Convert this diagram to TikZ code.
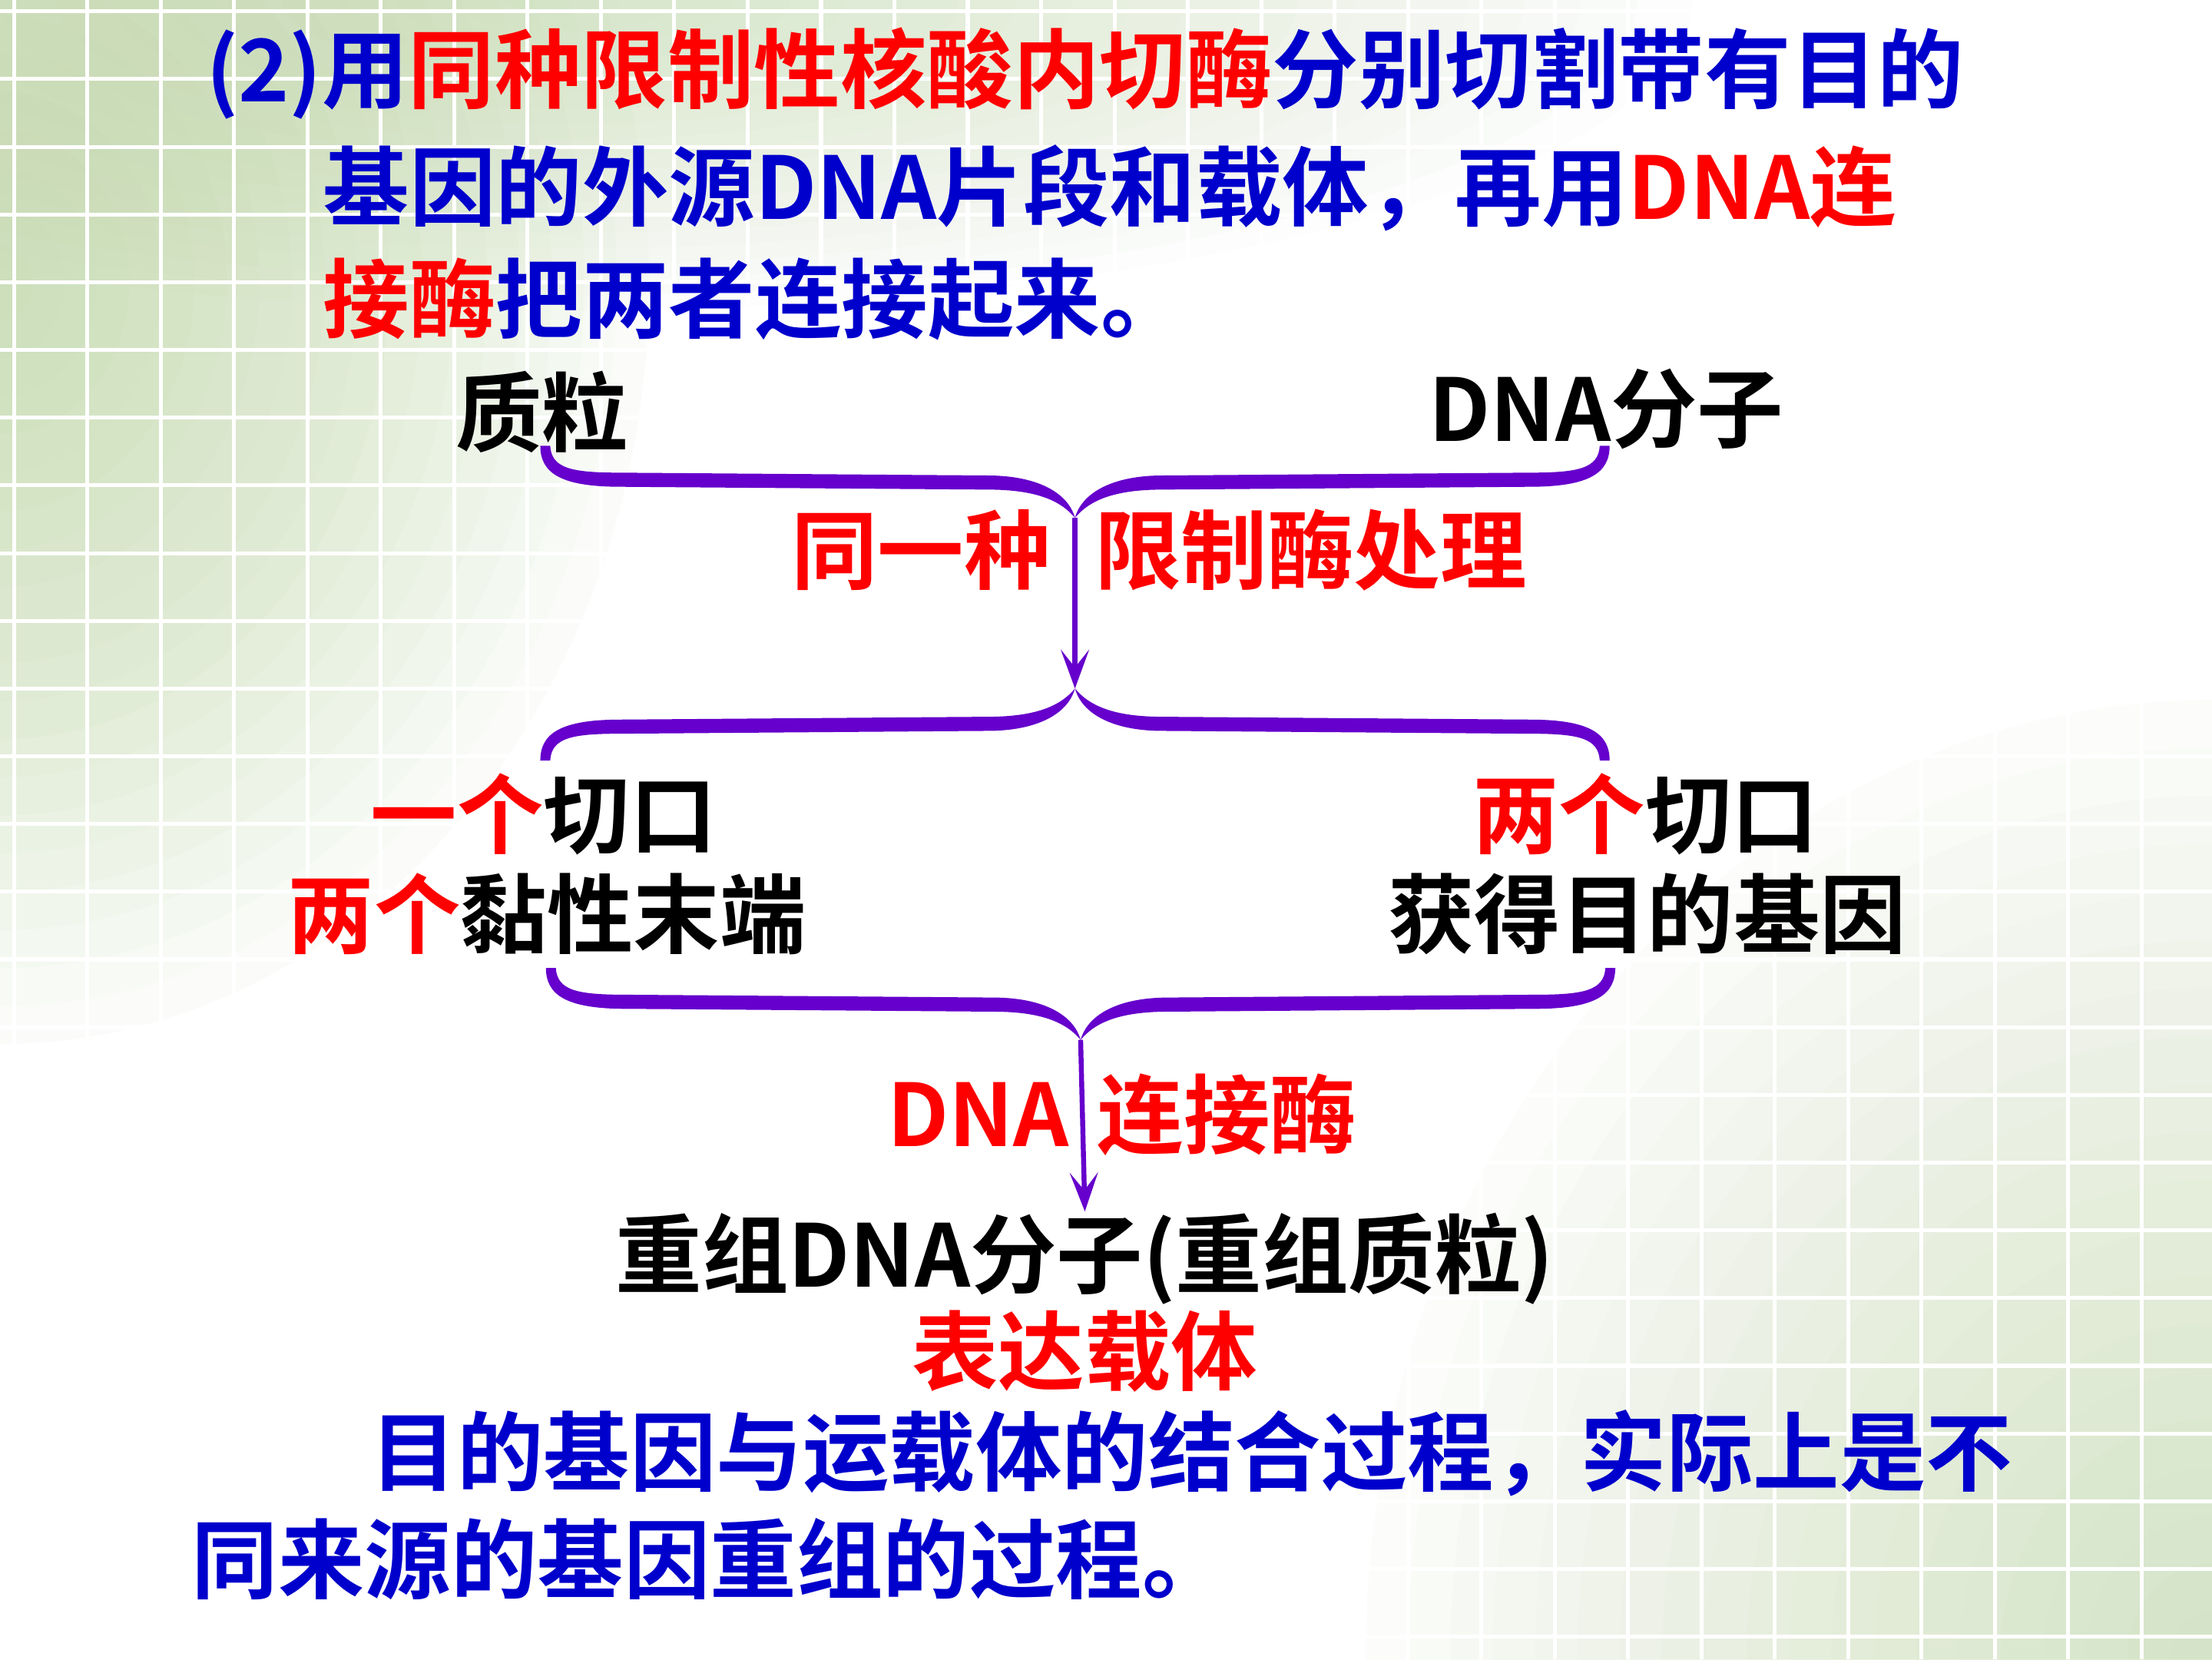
\documentclass[tikz,border=0pt]{standalone}
\usepackage{fontspec}
\usetikzlibrary{arrows.meta}
\newfontfamily\cjk{Noto Sans CJK SC}[BoldFont={Noto Sans CJK SC Bold}]

\definecolor{bracepurple}{RGB}{102,0,204}
\definecolor{txtblue}{RGB}{0,0,204}
\definecolor{txtred}{RGB}{255,0,0}
\definecolor{bggreen}{RGB}{188,214,160}

\tikzset{every picture/.style={line width=0.75pt},
  txt/.style={anchor=west, inner sep=0pt, font=\cjk\bfseries\fontsize{24.5}{28}\selectfont},
  gridline/.style={draw=white, line width=1.1pt},
  glow/.style={fill=bggreen, fill opacity=0.05},
  arr/.style={draw=bracepurple, line width=1.4pt, -{Stealth[length=11pt, width=8pt, inset=5pt]}},
  brace half/.pic={
    \fill[bracepurple] (-372,51) .. controls (-371,35) and (-357,32) .. (-322,32) -- (-62,30)
      .. controls (-27,30) and (-5,18) .. (0,0)
      .. controls (-10,12) and (-27,20) .. (-62,20) -- (-322,22)
      .. controls (-365,22) and (-379,32) .. (-379,51) -- cycle;
  }
}

\begin{document}
\begin{tikzpicture}[x=0.4pt,y=0.4pt,yscale=-1]
\useasboundingbox (0,0) rectangle (1568,1176);

% Background
\fill[white] (0,0) rectangle (1568,1176);
\begin{scope}
\clip (0,0) rectangle (1568,1176);
\foreach \k in {1,...,20} {
  \fill[glow] (0,200) ellipse [x radius=23*\k, y radius=27*\k];
  \fill[glow, fill opacity=0.03] (400,0) ellipse [x radius=40*\k, y radius=11*\k];
  \fill[glow, fill opacity=0.035] (1568,1176) ellipse [x radius=30*\k, y radius=34*\k];
}
\foreach \gx in {10,62,...,1570} \draw[gridline] (\gx,0) -- (\gx,1176);
\foreach \gy in {8,56,...,1180} \draw[gridline] (0,\gy) -- (1568,\gy);
\end{scope}

% Text Node
\node[txt] (title1) at (145,52) {\textcolor{txtblue}{(2)用}\textcolor{txtred}{同种限制性核酸内切酶}\textcolor{txtblue}{分别切割带有目的}};
% Text Node
\node[txt] (title2) at (228,133) {\textcolor{txtblue}{基因的外源DNA片段和载体，再用}\textcolor{txtred}{DNA连}};
% Text Node
\node[txt] (title3) at (228,212) {\textcolor{txtred}{接酶}\textcolor{txtblue}{把两者连接起来。}};

% Text Node
\node[txt] (plasmid) at (322,292) {质粒};
% Text Node
\node[txt] (dnamol) at (1012,290) {DNA分子};

%Shape: Brace
\coordinate (tipA) at (762,367);
\pic at (tipA) {brace half};
\pic[xscale=-1] at (tipA) {brace half};

% Text Node
\node[txt, text=txtred] (same) at (560,390) {同一种};
% Text Node
\node[txt, text=txtred] (enzyme) at (775,390) {限制酶处理};

%Shape: Brace
\coordinate (tipB) at (762,488);
\pic[yscale=-1] at (tipB) {brace half};
\pic[xscale=-1,yscale=-1] at (tipB) {brace half};

%Straight Lines
\draw[arr] (tipA) -- (tipB);

% Text Node
\node[txt] (cutL1) at (262,577) {\textcolor{txtred}{一个}切口};
% Text Node
\node[txt] (cutL2) at (203,648) {\textcolor{txtred}{两个}黏性末端};
% Text Node
\node[txt] (cutR1) at (1043,577) {\textcolor{txtred}{两个}切口};
% Text Node
\node[txt] (cutR2) at (983,648) {获得目的基因};

%Shape: Brace
\coordinate (tipC) at (766,737);
\pic at (tipC) {brace half};
\pic[xscale=-1] at (tipC) {brace half};

% Text Node
\node[txt, text=txtred] (ligA) at (628,790) {DNA};
% Text Node
\node[txt, text=txtred] (ligB) at (777,790) {连接酶};

% Text Node
\node[txt, anchor=center] (result) at (769,892) {重组DNA分子(重组质粒)};
% Text Node
\node[txt, anchor=center, text=txtred] (vector) at (769,958) {表达载体};

%Straight Lines
\draw[arr] (tipC) -- (result.north);

% Text Node
\node[txt, text=txtblue] (sum1) at (262,1030) {目的基因与运载体的结合过程，实际上是不};
% Text Node
\node[txt, text=txtblue] (sum2) at (135,1105) {同来源的基因重组的过程。};

\end{tikzpicture}
\end{document}
